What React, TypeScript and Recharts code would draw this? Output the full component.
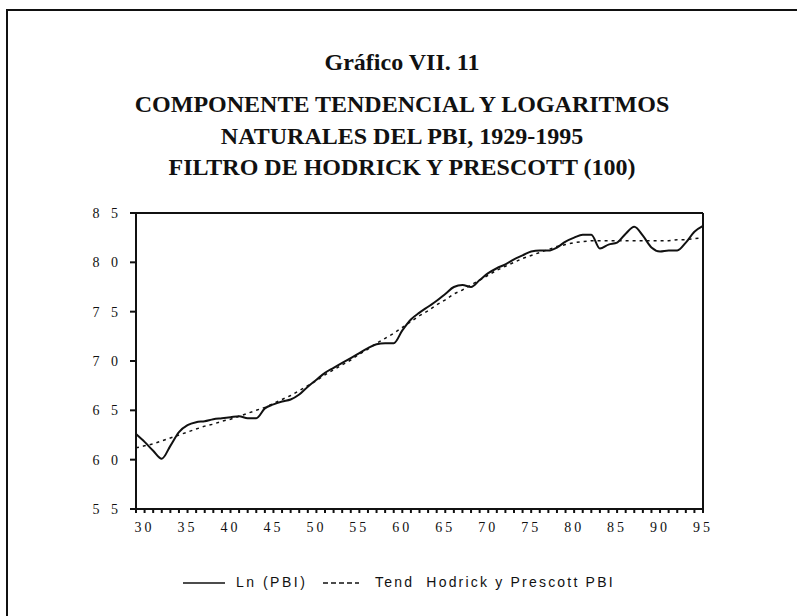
import React from 'react';
import { LineChart, Line, XAxis, YAxis, ReferenceLine, Legend } from 'recharts';

const firstYear = 1929;
const lastYear = 1995;
const years = Array.from({ length: lastYear - firstYear + 1 }, (_, i) => firstYear + i);

// Ln(PBI)
const lnPbi = [
  6.26, 6.18, 6.09, 6.01, 6.14, 6.28, 6.35, 6.38, 6.39, 6.41,
  6.42, 6.43, 6.44, 6.42, 6.42, 6.52, 6.56, 6.59, 6.61, 6.66,
  6.74, 6.81, 6.88, 6.93, 6.98, 7.03, 7.08, 7.13, 7.17, 7.18,
  7.18, 7.31, 7.42, 7.49, 7.55, 7.61, 7.68, 7.75, 7.77, 7.75,
  7.82, 7.89, 7.94, 7.98, 8.03, 8.07, 8.11, 8.12, 8.12, 8.15,
  8.21, 8.25, 8.28, 8.28, 8.14, 8.18, 8.20, 8.29, 8.36, 8.27,
  8.15, 8.11, 8.12, 8.12, 8.20, 8.31, 8.37,
];

// Hodrick-Prescott trend (lambda 100)
const hpTrend = [
  6.12, 6.14, 6.16, 6.19, 6.22, 6.25, 6.28, 6.31, 6.34, 6.36,
  6.39, 6.41, 6.44, 6.47, 6.50, 6.53, 6.57, 6.61, 6.65, 6.70,
  6.75, 6.80, 6.86, 6.91, 6.96, 7.01, 7.07, 7.12, 7.18, 7.23,
  7.28, 7.34, 7.40, 7.46, 7.51, 7.57, 7.62, 7.68, 7.72, 7.77,
  7.82, 7.87, 7.92, 7.96, 8.00, 8.04, 8.07, 8.10, 8.13, 8.16,
  8.18, 8.20, 8.21, 8.22, 8.22, 8.22, 8.22, 8.22, 8.22, 8.22,
  8.22, 8.22, 8.22, 8.23, 8.23, 8.24, 8.25,
];

const yTicks = [5.5, 6.0, 6.5, 7.0, 7.5, 8.0, 8.5];

const titleLines = [
  'Gráfico VII. 11',
  'COMPONENTE TENDENCIAL Y LOGARITMOS',
  'NATURALES DEL PBI, 1929-1995',
  'FILTRO DE HODRICK Y PRESCOTT (100)',
];

const data = years.map((year, i) => ({ year, ln: lnPbi[i], trend: hpTrend[i] }));

const serif = '"Liberation Serif", "Times New Roman", serif';
const sans = '"Liberation Sans", Arial, sans-serif';

const titleTops = [50, 92, 124, 155];

const ChartLegend = () => (
  <div style={{ position: 'relative', width: 700, height: 24, fontFamily: sans, fontSize: 14, color: '#111' }}>
    <svg style={{ position: 'absolute', left: 183, top: 8 }} width={44} height={6}>
      <line x1={0} y1={3} x2={42} y2={3} stroke="#111" strokeWidth={1.5} />
    </svg>
    <span style={{ position: 'absolute', left: 236, top: 2, letterSpacing: 2.5 }}>Ln (PBI)</span>
    <svg style={{ position: 'absolute', left: 323, top: 8 }} width={38} height={6}>
      <line x1={0} y1={3} x2={36} y2={3} stroke="#111" strokeWidth={1.5} strokeDasharray="5 3" />
    </svg>
    <span style={{ position: 'absolute', left: 375, top: 2, letterSpacing: 2.2, whiteSpace: 'pre' }}>
      Tend  Hodrick y Prescott PBI
    </span>
  </div>
);

const App: React.FC = () => {
  return (
    <div style={{ position: 'absolute', left: 0, top: 0, width: 797, height: 616 }}>
      {/* frame left over from the scan: top and left edges only */}
      <svg style={{ position: 'absolute', left: 0, top: 0 }} width={797} height={616}>
        <line x1={7} y1={10} x2={797} y2={10} stroke="#111" strokeWidth={2} />
        <line x1={7} y1={9} x2={7} y2={616} stroke="#111" strokeWidth={2} />
      </svg>
      {titleLines.map((t, i) => (
        <div
          key={t}
          style={{
            position: 'absolute',
            left: 10,
            width: 784,
            top: titleTops[i],
            textAlign: 'center',
            fontFamily: serif,
            fontWeight: 'bold',
            fontSize: 24,
            lineHeight: '24px',
            color: '#111',
          }}
        >
          {t}
        </div>
      ))}
      <div style={{ position: 'absolute', left: 0, top: 0 }}>
        <LineChart width={790} height={616} data={data} margin={{ top: 213, right: 87, bottom: 53, left: 76 }}>
          <XAxis
            dataKey="year"
            type="number"
            domain={[firstYear, lastYear]}
            ticks={years}
            interval={0}
            tickSize={4}
            tickMargin={9}
            height={30}
            stroke="#111"
            strokeWidth={2}
            tickFormatter={(v: number) => (v % 5 === 0 ? String(v % 100).padStart(2, '0') : '')}
            tick={{ fill: '#111', fontFamily: serif, fontSize: 14, letterSpacing: 3 }}
          />
          <YAxis
            type="number"
            domain={[5.5, 8.5]}
            ticks={yTicks}
            interval={0}
            width={60}
            tickSize={6}
            tickMargin={8}
            stroke="#111"
            strokeWidth={2}
            tickFormatter={(v: number) => v.toFixed(1).replace('.', ' ')}
            tick={{ fill: '#111', fontFamily: serif, fontSize: 14, letterSpacing: 4 }}
          />
          <ReferenceLine y={8.5} stroke="#111" strokeWidth={2} />
          <ReferenceLine x={lastYear} stroke="#111" strokeWidth={2} />
          <Line
            type="linear"
            dataKey="trend"
            name="Tend Hodrick y Prescott PBI"
            stroke="#111"
            strokeWidth={1.5}
            strokeDasharray="3 4"
            dot={false}
            isAnimationActive={false}
          />
          <Line
            type="monotone"
            dataKey="ln"
            name="Ln (PBI)"
            stroke="#111"
            strokeWidth={2}
            dot={false}
            isAnimationActive={false}
          />
          <Legend content={<ChartLegend />} wrapperStyle={{ left: 0, top: 572, width: 700 }} />
        </LineChart>
      </div>
    </div>
  );
};

export default App;
